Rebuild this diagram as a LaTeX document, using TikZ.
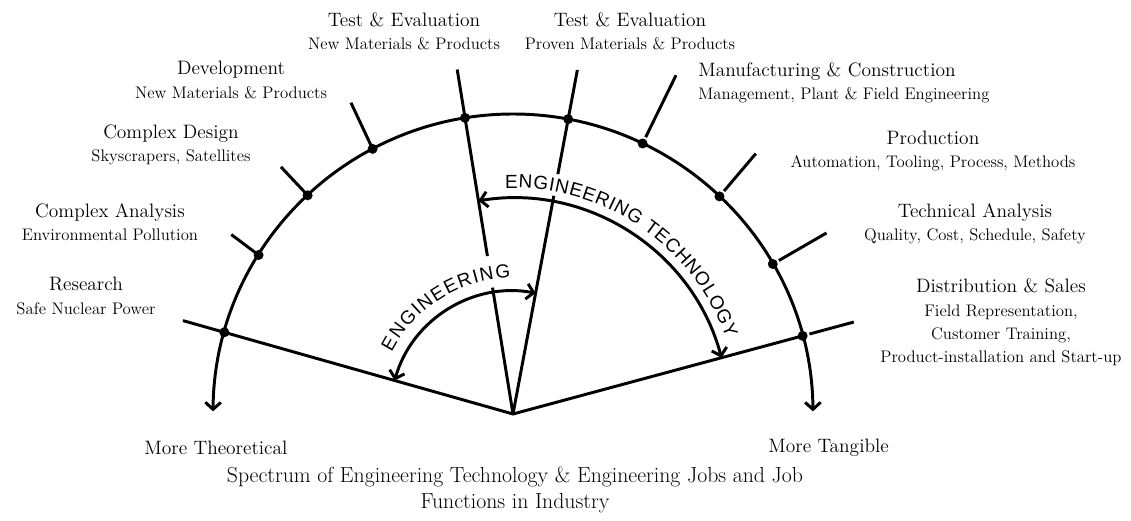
\documentclass[tikz,border=0pt]{standalone}
\usepackage{fontspec}
\newfontfamily\arcfont{Liberation Sans}
\usetikzlibrary{arrows.meta,decorations.text}

\newcommand{\jobhead}[1]{{\fontsize{13.8}{16.5}\selectfont #1}}

\begin{document}
\begin{tikzpicture}[
  line width=2.1pt,
  barb/.style={{Straight Barb[length=5pt,width=11pt]}-{Straight Barb[length=5pt,width=11pt]}},
  job/.style={align=center, inner sep=0pt, font=\fontsize{11.9}{16.5}\selectfont},
  arclabel/.style={decorate, decoration={text along path, text align={fit to path}, text={|\arcfont\fontsize{13.5}{15}\selectfont|#1}}}
]

\useasboundingbox (-12.825,-2.675) rectangle (15.45,10.35);

% apex and the points on the big arc
\coordinate (O) at (0,0);
\coordinate (A) at (164.2:7.5);
\coordinate (B) at (148:7.5);
\coordinate (C) at (133.2:7.5);
\coordinate (D) at (117.9:7.5);
\coordinate (E) at (99.2:7.5);
\coordinate (F) at (79.4:7.5);
\coordinate (G) at (64.4:7.5);
\coordinate (H) at (46.5:7.5);
\coordinate (I) at (30:7.5);
\coordinate (J) at (15.1:7.5);

% outer ends of the ticks
\coordinate (a) at (164.2:8.575);
\coordinate (b) at (147.5:8.35);
\coordinate (c) at (133.2:8.475);
\coordinate (d) at (117.5:8.775);
\coordinate (e) at (99.2:8.725);
\coordinate (f) at (79.4:8.75);
\coordinate (g) at (64.3:9.4);
\coordinate (h) at (47:8.9);
\coordinate (i) at (30:9.05);
\coordinate (j) at (15.1:8.825);

% breaks where the curved words cross
\coordinate (E1) at (99.2:3.2);
\coordinate (E2) at (99.2:4.0);
\coordinate (F1) at (79.4:5.55);
\coordinate (F2) at (79.4:6.1);

\draw [barb] (179.5:7.5) arc [start angle=179.5, end angle=0.5, radius=7.5];

\draw (a) -- (A) -- (O) -- (J);
\draw [shorten <=5pt] (J) -- (j);
\draw (O) -- (E1);
\draw (E2) -- (e);
\draw (O) -- (F1);
\draw (F2) -- (f);

\draw (B) -- (b);
\draw (C) -- (c);
\draw (D) -- (d);
\draw [shorten <=5pt] (G) -- (g);
\draw [shorten <=5pt] (H) -- (h);
\draw [shorten <=5pt] (I) -- (i);

\fill (A) circle (0.125) (B) circle (0.125) (C) circle (0.125) (D) circle (0.125)
      (E) circle (0.125) (F) circle (0.125) (G) circle (0.125) (H) circle (0.125)
      (I) circle (0.125) (J) circle (0.125);

\draw [barb] (164.2:3.075) arc [start angle=164.2, end angle=79.4, radius=3.075];
\draw [barb] (99.2:5.4) arc [start angle=99.2, end angle=15.1, radius=5.4];

\path [arclabel=ENGINEERING] (153:3.4) arc [start angle=153, end angle=91, radius=3.4];
\path [arclabel=ENGINEERING TECHNOLOGY] (92:5.65) arc [start angle=92, end angle=19.5, radius=5.65];

\node [job] (te1) at (-2.725,9.575) {\jobhead{Test \& Evaluation}\\New Materials \& Products};
\node [job] (te2) at (2.925,9.575) {\jobhead{Test \& Evaluation}\\Proven Materials \& Products};
\node [job] (dev) at (-7.05,8.35) {\jobhead{Development}\\New Materials \& Products};
\node [job] (cdes) at (-8.55,6.725) {\jobhead{Complex Design}\\Skyscrapers, Satellites};
\node [job] (cana) at (-10.075,4.8) {\jobhead{Complex Analysis}\\Environmental Pollution};
\node [job] (res) at (-10.675,2.95) {\jobhead{Research}\\Safe Nuclear Power};
\node [job, anchor=west, align=left] (man) at (4.6,8.275) {\jobhead{Manufacturing \& Construction}\\Management, Plant \& Field Engineering};
\node [job] (prod) at (10.5,6.575) {\jobhead{Production}\\Automation, Tooling, Process, Methods};
\node [job] (tech) at (11.55,4.75) {\jobhead{Technical Analysis}\\Quality, Cost, Schedule, Safety};
\node [job] (dist) at (12.2,2.29) {\jobhead{Distribution \& Sales}\\Field Representation,\\Customer Training,\\Product-installation and Start-up};

\node [job, anchor=west] (theo) at (-9.25,-0.85) {\jobhead{More Theoretical}};
\node [job, anchor=west] (tang) at (6.35,-0.85) {\jobhead{More Tangible}};
\node [job, font=\fontsize{15.5}{19}\selectfont] (cap) at (0.05,-1.9) {Spectrum of Engineering Technology \& Engineering Jobs and Job\\Functions in Industry};

\end{tikzpicture}
\end{document}
